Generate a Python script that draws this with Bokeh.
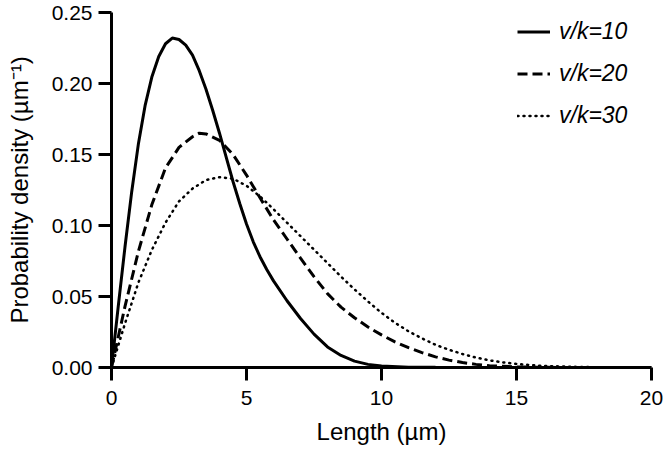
from bokeh.plotting import figure
from bokeh.models import Range1d, FixedTicker, Legend, LegendItem
from bokeh.embed import file_html
from bokeh.resources import INLINE

# ---- data ----
length_10 = [0, 0.25, 0.5, 0.75, 1.0, 1.25, 1.5, 1.75, 2.0, 2.25, 2.5, 2.75, 3.0, 3.25, 3.5,
             3.75, 4.0, 4.25, 4.5, 4.75, 5.0, 5.25, 5.5, 5.75, 6.0, 6.5, 7.0, 7.5, 8.0, 8.5,
             9.0, 9.5, 10, 11, 12, 14, 16, 18, 20]
density_10 = [0, 0.043, 0.085, 0.124, 0.158, 0.185, 0.205, 0.219, 0.228, 0.232, 0.231, 0.227,
              0.220, 0.209, 0.196, 0.181, 0.165, 0.148, 0.131, 0.1155, 0.101, 0.0885, 0.078,
              0.069, 0.061, 0.047, 0.0345, 0.0235, 0.0145, 0.0085, 0.0045, 0.0022, 0.001,
              0.0002, 0.0001, 0, 0, 0, 0]

length_20 = [0, 0.5, 1.0, 1.5, 2.0, 2.5, 3.0, 3.25, 3.5, 4.0, 4.5, 5.0, 5.5, 6.0, 6.5, 7.0,
             7.5, 8.0, 8.5, 9.0, 9.5, 10.0, 10.5, 11.0, 11.5, 12.0, 12.5, 13.0, 13.5, 14.0,
             15.0, 16.0, 18.0, 20.0]
density_20 = [0, 0.043, 0.082, 0.115, 0.1405, 0.155, 0.1625, 0.165, 0.1645, 0.160, 0.150,
              0.1355, 0.1195, 0.104, 0.0905, 0.077, 0.064, 0.052, 0.0425, 0.035, 0.0285,
              0.023, 0.018, 0.014, 0.0105, 0.0075, 0.0052, 0.0035, 0.0022, 0.0013, 0.0004,
              0.0001, 0, 0]

length_30 = [0, 0.5, 1.0, 1.5, 2.0, 2.5, 3.0, 3.5, 4.0, 4.5, 5.0, 5.5, 6.0, 6.5, 7.0, 7.5,
             8.0, 8.5, 9.0, 9.5, 10.0, 10.5, 11.0, 11.5, 12.0, 12.5, 13.0, 13.5, 14.0, 14.5,
             15.0, 15.5, 16.0, 17.0, 18.0, 19.0, 20.0]
density_30 = [0, 0.031, 0.060, 0.083, 0.102, 0.117, 0.126, 0.132, 0.134, 0.133, 0.128, 0.1205,
              0.1115, 0.102, 0.0925, 0.083, 0.0735, 0.064, 0.055, 0.0465, 0.0385, 0.0315,
              0.0255, 0.0205, 0.016, 0.0125, 0.0095, 0.007, 0.005, 0.0036, 0.0025, 0.0017,
              0.0011, 0.0005, 0.0002, 0.0001, 0]

series_labels = ["v/k=10", "v/k=20", "v/k=30"]
x_ticks = [0, 5, 10, 15, 20]
x_tick_labels = ["0", "5", "10", "15", "20"]
y_ticks = [0, 0.05, 0.10, 0.15, 0.20, 0.25]
y_tick_labels = ["0.00", "0.05", "0.10", "0.15", "0.20", "0.25"]

FONT = "Liberation Sans"

p = figure(width=663, height=452, output_backend="svg", toolbar_location=None,
           x_range=Range1d(0, 20), y_range=Range1d(0, 0.25),
           min_border_left=111, min_border_right=12, min_border_top=12,
           min_border_bottom=85)
p.outline_line_color = None
p.grid.visible = False
p.background_fill_color = "white"
p.border_fill_color = "white"

r1 = p.line(length_10, density_10, line_color="black", line_width=3)
r2 = p.line(length_20, density_20, line_color="black", line_width=3, line_dash="10 5")
r3 = p.line(length_30, density_30, line_color="black", line_width=2.5, line_dash="1 5",
            line_cap="round")

p.xaxis.ticker = FixedTicker(ticks=x_ticks)
p.xaxis.major_label_overrides = dict(zip(x_ticks, x_tick_labels))
p.yaxis.ticker = FixedTicker(ticks=y_ticks)
p.yaxis.major_label_overrides = dict(zip(y_ticks, y_tick_labels))

for ax in (p.xaxis[0], p.yaxis[0]):
    ax.axis_line_width = 3
    ax.axis_line_color = "black"
    ax.major_tick_line_width = 3
    ax.major_tick_line_color = "black"
    ax.major_tick_out = 13
    ax.major_tick_in = 0
    ax.minor_tick_line_color = None
    ax.major_label_text_font = FONT
    ax.major_label_text_font_size = "21px"
    ax.major_label_text_color = "black"
    ax.axis_label_text_font = FONT
    ax.axis_label_text_font_style = "normal"
    ax.axis_label_text_color = "black"
    ax.axis_label_text_font_size = "24px"

p.xaxis.axis_label = "Length (µm)"
p.yaxis.axis_label = "Probability density (µm⁻¹)"
p.xaxis.major_label_standoff = 10
p.yaxis.major_label_standoff = 6
p.xaxis.axis_label_standoff = 10
p.yaxis.axis_label_standoff = 16

legend = Legend(items=[LegendItem(label=series_labels[0], renderers=[r1]),
                       LegendItem(label=series_labels[1], renderers=[r2]),
                       LegendItem(label=series_labels[2], renderers=[r3])],
                location=(406, 238))
legend.border_line_color = None
legend.background_fill_alpha = 0
legend.padding = 0
legend.margin = 0
legend.spacing = 15
legend.glyph_width = 33
legend.glyph_height = 27
legend.label_height = 27
legend.label_standoff = 9
legend.label_text_font = FONT
legend.label_text_font_size = "23px"
legend.label_text_font_style = "italic"
legend.label_text_color = "black"
p.add_layout(legend, "center")

open("out.html", "w").write(file_html(p, INLINE))
